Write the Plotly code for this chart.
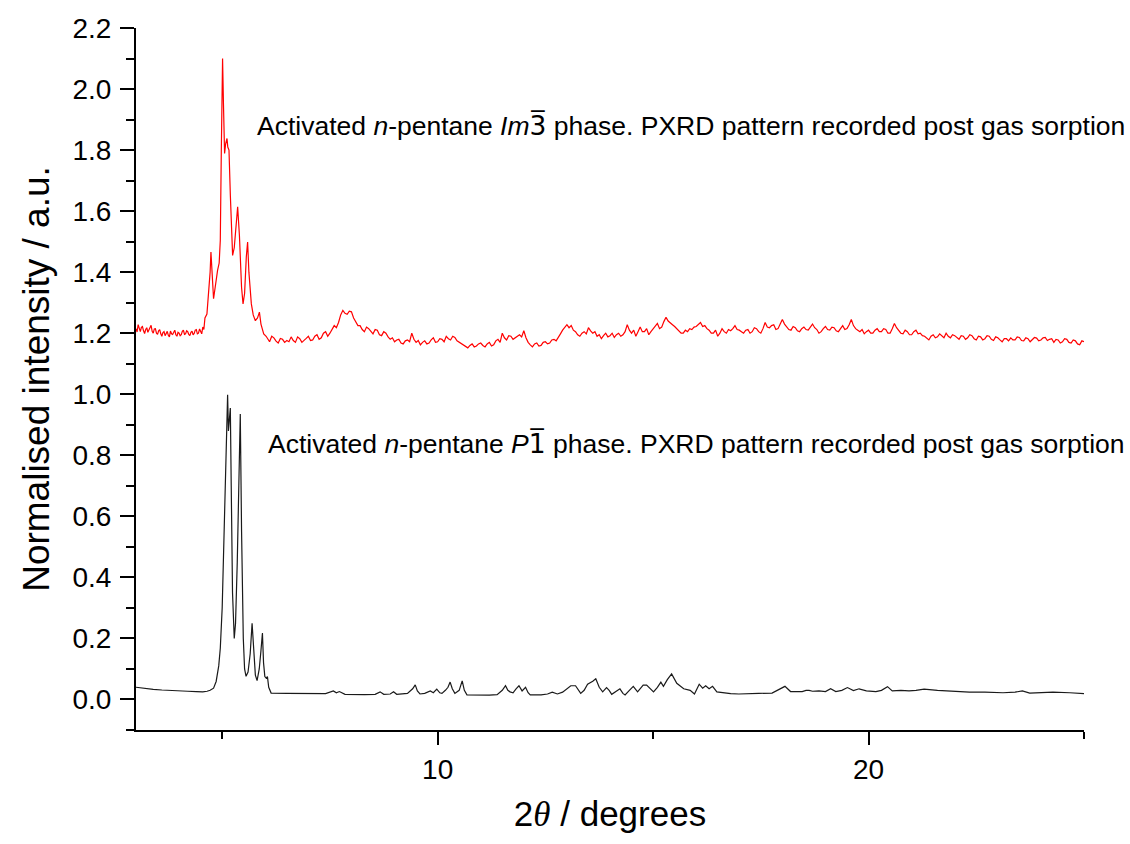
import plotly.graph_objects as go

# ---- Data ----
# Black trace: P-1 phase (x = 2theta in degrees, y = normalised intensity)
black_pts = [
    (3.0, 0.040), (3.2, 0.036), (3.4, 0.033), (3.6, 0.031), (3.8, 0.029), (4.0, 0.028),
    (4.2, 0.027), (4.4, 0.026), (4.55, 0.025), (4.65, 0.027), (4.72, 0.030), (4.8, 0.037),
    (4.86, 0.059), (4.92, 0.110), (4.956, 0.168), (5.0, 0.300), (5.033, 0.497), (5.07, 0.720),
    (5.095, 0.880), (5.126, 0.998), (5.145, 0.880), (5.165, 0.910), (5.189, 0.955), (5.21, 0.700),
    (5.24, 0.350), (5.28, 0.200), (5.31, 0.250), (5.35, 0.450), (5.39, 0.720), (5.42, 0.935),
    (5.45, 0.550), (5.49, 0.200), (5.52, 0.100), (5.554, 0.076), (5.6, 0.090), (5.65, 0.150),
    (5.694, 0.250), (5.73, 0.150), (5.77, 0.080), (5.81, 0.062), (5.86, 0.100), (5.9, 0.160),
    (5.934, 0.218), (5.96, 0.120), (5.99, 0.075), (6.02, 0.070), (6.05, 0.075), (6.08, 0.040),
    (6.136, 0.021), (6.5, 0.020), (7.0, 0.019), (7.4, 0.019), (7.58, 0.028), (7.65, 0.022),
    (7.72, 0.026), (7.85, 0.017), (8.3, 0.016), (8.55, 0.017), (8.665, 0.025), (8.75, 0.017),
    (8.9, 0.018), (8.977, 0.025), (9.05, 0.017), (9.3, 0.020), (9.42, 0.035), (9.48, 0.048),
    (9.53, 0.028), (9.59, 0.018), (9.7, 0.020), (9.83, 0.028), (9.9, 0.022), (9.98, 0.034),
    (10.05, 0.022), (10.1, 0.020), (10.18, 0.030), (10.24, 0.040), (10.29, 0.057), (10.34, 0.035),
    (10.4, 0.020), (10.5, 0.030), (10.57, 0.061), (10.62, 0.030), (10.68, 0.015), (10.92, 0.014),
    (11.2, 0.014), (11.38, 0.016), (11.5, 0.030), (11.575, 0.045), (11.63, 0.030), (11.68, 0.025),
    (11.75, 0.022), (11.82, 0.035), (11.887, 0.045), (11.96, 0.028), (12.04, 0.040), (12.1, 0.022),
    (12.15, 0.015), (12.4, 0.015), (12.55, 0.018), (12.66, 0.024), (12.78, 0.018), (12.9, 0.024),
    (13.0, 0.035), (13.09, 0.045), (13.2, 0.045), (13.27, 0.030), (13.32, 0.020), (13.4, 0.030),
    (13.48, 0.050), (13.6, 0.060), (13.67, 0.068), (13.75, 0.040), (13.83, 0.025), (13.92, 0.039),
    (13.98, 0.030), (14.04, 0.017), (14.13, 0.025), (14.23, 0.035), (14.3, 0.020), (14.35, 0.015),
    (14.45, 0.030), (14.54, 0.043), (14.64, 0.025), (14.77, 0.047), (14.85, 0.047), (14.93, 0.035),
    (15.01, 0.025), (15.1, 0.040), (15.18, 0.057), (15.24, 0.043), (15.33, 0.065), (15.43, 0.084),
    (15.55, 0.053), (15.71, 0.035), (15.86, 0.030), (15.96, 0.018), (16.07, 0.050), (16.15, 0.037),
    (16.22, 0.045), (16.30, 0.035), (16.38, 0.043), (16.48, 0.025), (16.64, 0.021), (16.8, 0.019),
    (16.99, 0.018), (17.2, 0.020), (17.45, 0.020), (17.76, 0.021), (17.9, 0.030), (18.06, 0.043),
    (18.19, 0.026), (18.46, 0.026), (18.55, 0.030), (18.62, 0.030), (18.7, 0.027), (18.85, 0.028),
    (19.0, 0.026), (19.12, 0.035), (19.24, 0.026), (19.38, 0.030), (19.51, 0.039), (19.65, 0.029),
    (19.78, 0.035), (19.95, 0.028), (20.17, 0.026), (20.3, 0.030), (20.44, 0.042), (20.55, 0.028),
    (20.75, 0.030), (20.94, 0.028), (21.1, 0.030), (21.29, 0.034), (21.6, 0.030), (21.87, 0.028),
    (22.1, 0.027), (22.34, 0.024), (22.7, 0.024), (23.12, 0.022), (23.4, 0.024), (23.57, 0.028),
    (23.74, 0.021), (24.0, 0.023), (24.28, 0.024), (24.67, 0.022), (25.0, 0.019),
]

# Red trace: Im-3 phase (offset pattern) - low-angle region and main peaks
red_peak_pts = [
    (3.0, 1.215), (3.025, 1.204), (3.05, 1.228), (3.075, 1.212), (3.1, 1.205), (3.125, 1.219),
    (3.15, 1.222), (3.175, 1.208), (3.2, 1.199), (3.225, 1.212), (3.25, 1.218), (3.275, 1.203),
    (3.3, 1.210), (3.325, 1.220), (3.35, 1.226), (3.375, 1.206), (3.4, 1.200), (3.425, 1.214),
    (3.45, 1.215), (3.475, 1.200), (3.5, 1.196), (3.525, 1.208), (3.55, 1.212), (3.575, 1.198),
    (3.6, 1.190), (3.625, 1.202), (3.65, 1.205), (3.675, 1.192), (3.7, 1.200), (3.725, 1.206),
    (3.75, 1.193), (3.775, 1.188), (3.8, 1.207), (3.825, 1.198), (3.85, 1.196), (3.875, 1.205),
    (3.9, 1.210), (3.925, 1.195), (3.95, 1.190), (3.975, 1.203), (4.0, 1.200), (4.025, 1.192),
    (4.05, 1.195), (4.075, 1.206), (4.1, 1.210), (4.125, 1.196), (4.15, 1.198), (4.175, 1.208),
    (4.2, 1.205), (4.225, 1.196), (4.25, 1.192), (4.275, 1.203), (4.3, 1.207), (4.325, 1.195),
    (4.35, 1.199), (4.375, 1.210), (4.4, 1.212), (4.425, 1.198), (4.45, 1.200), (4.475, 1.214),
    (4.5, 1.206), (4.525, 1.198), (4.55, 1.220), (4.575, 1.212), (4.6, 1.250), (4.646, 1.263),
    (4.72, 1.400), (4.739, 1.466), (4.80, 1.313), (4.85, 1.370), (4.893, 1.406), (4.93, 1.430),
    (4.956, 1.504), (4.98, 1.800), (5.009, 2.100), (5.03, 1.950), (5.056, 1.789), (5.08, 1.820),
    (5.112, 1.838), (5.13, 1.810), (5.158, 1.800), (5.19, 1.650), (5.242, 1.455), (5.28, 1.480),
    (5.33, 1.580), (5.359, 1.614), (5.40, 1.520), (5.45, 1.350), (5.484, 1.296), (5.52, 1.330),
    (5.56, 1.450), (5.59, 1.499), (5.62, 1.400), (5.677, 1.296), (5.72, 1.260), (5.77, 1.241),
    (5.82, 1.250), (5.864, 1.269), (5.90, 1.230), (5.964, 1.198), (6.02, 1.190), (6.08, 1.176),
]

# Red trace: higher-angle region
red_tail_pts = [
    (6.1, 1.172), (6.15, 1.190), (6.2, 1.185), (6.25, 1.174), (6.3, 1.168), (6.35, 1.183),
    (6.4, 1.180), (6.45, 1.170), (6.5, 1.176), (6.55, 1.172), (6.6, 1.188), (6.65, 1.176),
    (6.7, 1.170), (6.75, 1.188), (6.8, 1.182), (6.85, 1.170), (6.9, 1.175), (6.95, 1.183),
    (7.0, 1.190), (7.05, 1.176), (7.1, 1.178), (7.15, 1.190), (7.2, 1.195), (7.25, 1.180),
    (7.3, 1.185), (7.35, 1.200), (7.4, 1.205), (7.45, 1.190), (7.5, 1.200), (7.55, 1.215),
    (7.6, 1.225), (7.65, 1.218), (7.7, 1.235), (7.75, 1.260), (7.8, 1.275), (7.85, 1.265),
    (7.9, 1.262), (7.95, 1.272), (8.0, 1.270), (8.05, 1.250), (8.1, 1.235), (8.15, 1.225),
    (8.2, 1.225), (8.25, 1.212), (8.3, 1.205), (8.35, 1.220), (8.4, 1.215), (8.45, 1.205),
    (8.5, 1.198), (8.55, 1.212), (8.6, 1.210), (8.65, 1.195), (8.7, 1.192), (8.75, 1.205),
    (8.8, 1.200), (8.85, 1.188), (8.9, 1.180), (8.95, 1.185), (9.0, 1.172), (9.05, 1.178),
    (9.1, 1.180), (9.15, 1.168), (9.2, 1.165), (9.25, 1.175), (9.3, 1.178), (9.35, 1.172),
    (9.4, 1.200), (9.45, 1.180), (9.5, 1.170), (9.55, 1.176), (9.6, 1.162), (9.65, 1.170),
    (9.7, 1.175), (9.75, 1.165), (9.8, 1.168), (9.85, 1.178), (9.9, 1.185), (9.95, 1.170),
    (10.0, 1.172), (10.05, 1.182), (10.1, 1.180), (10.15, 1.172), (10.2, 1.190), (10.25, 1.182),
    (10.3, 1.178), (10.35, 1.190), (10.4, 1.186), (10.45, 1.175), (10.5, 1.170), (10.55, 1.165),
    (10.6, 1.162), (10.65, 1.158), (10.7, 1.152), (10.75, 1.160), (10.8, 1.165), (10.85, 1.155),
    (10.9, 1.158), (10.95, 1.165), (11.0, 1.168), (11.05, 1.160), (11.1, 1.155), (11.15, 1.165),
    (11.2, 1.170), (11.25, 1.158), (11.3, 1.162), (11.35, 1.175), (11.4, 1.180), (11.45, 1.170),
    (11.5, 1.200), (11.55, 1.185), (11.6, 1.178), (11.65, 1.192), (11.7, 1.190), (11.75, 1.180),
    (11.8, 1.185), (11.85, 1.192), (11.9, 1.195), (11.95, 1.188), (12.0, 1.208), (12.05, 1.185),
    (12.1, 1.170), (12.15, 1.162), (12.2, 1.155), (12.25, 1.165), (12.3, 1.168), (12.35, 1.158),
    (12.4, 1.160), (12.45, 1.170), (12.5, 1.172), (12.55, 1.165), (12.6, 1.168), (12.65, 1.178),
    (12.7, 1.180), (12.75, 1.175), (12.8, 1.185), (12.85, 1.198), (12.9, 1.210), (12.95, 1.220),
    (13.0, 1.228), (13.05, 1.218), (13.1, 1.225), (13.15, 1.210), (13.2, 1.205), (13.25, 1.195),
    (13.3, 1.190), (13.35, 1.200), (13.4, 1.205), (13.45, 1.198), (13.5, 1.218), (13.55, 1.208),
    (13.6, 1.200), (13.65, 1.205), (13.7, 1.190), (13.75, 1.195), (13.8, 1.182), (13.85, 1.192),
    (13.9, 1.200), (13.95, 1.188), (14.0, 1.192), (14.05, 1.200), (14.1, 1.186), (14.15, 1.195),
    (14.2, 1.200), (14.25, 1.190), (14.3, 1.195), (14.35, 1.205), (14.4, 1.228), (14.45, 1.210),
    (14.5, 1.200), (14.55, 1.210), (14.6, 1.190), (14.65, 1.205), (14.7, 1.220), (14.75, 1.205),
    (14.8, 1.205), (14.85, 1.215), (14.9, 1.195), (14.95, 1.205), (15.0, 1.215), (15.05, 1.222),
    (15.1, 1.232), (15.15, 1.215), (15.2, 1.220), (15.25, 1.238), (15.3, 1.252), (15.35, 1.240),
    (15.4, 1.235), (15.45, 1.228), (15.5, 1.222), (15.55, 1.215), (15.6, 1.210), (15.65, 1.200),
    (15.7, 1.200), (15.75, 1.210), (15.8, 1.205), (15.85, 1.215), (15.9, 1.212), (15.95, 1.220),
    (16.0, 1.222), (16.05, 1.230), (16.1, 1.235), (16.15, 1.222), (16.2, 1.225), (16.25, 1.215),
    (16.3, 1.210), (16.35, 1.200), (16.4, 1.200), (16.45, 1.210), (16.5, 1.190), (16.55, 1.200),
    (16.6, 1.215), (16.65, 1.205), (16.7, 1.200), (16.75, 1.212), (16.8, 1.208), (16.85, 1.215),
    (16.9, 1.225), (16.95, 1.212), (17.0, 1.210), (17.05, 1.205), (17.1, 1.200), (17.15, 1.210),
    (17.2, 1.212), (17.25, 1.200), (17.3, 1.205), (17.35, 1.218), (17.4, 1.215), (17.45, 1.205),
    (17.5, 1.200), (17.55, 1.215), (17.6, 1.235), (17.65, 1.220), (17.7, 1.218), (17.75, 1.225),
    (17.8, 1.228), (17.85, 1.212), (17.9, 1.215), (17.95, 1.230), (18.0, 1.245), (18.05, 1.230),
    (18.1, 1.222), (18.15, 1.212), (18.2, 1.210), (18.25, 1.222), (18.3, 1.218), (18.35, 1.208),
    (18.4, 1.205), (18.45, 1.215), (18.5, 1.220), (18.55, 1.212), (18.6, 1.210), (18.65, 1.222),
    (18.7, 1.230), (18.75, 1.218), (18.8, 1.212), (18.85, 1.200), (18.9, 1.205), (18.95, 1.215),
    (19.0, 1.222), (19.05, 1.212), (19.1, 1.210), (19.15, 1.220), (19.2, 1.218), (19.25, 1.208),
    (19.3, 1.205), (19.35, 1.215), (19.4, 1.225), (19.45, 1.212), (19.5, 1.215), (19.55, 1.228),
    (19.6, 1.245), (19.65, 1.225), (19.7, 1.215), (19.75, 1.210), (19.8, 1.205), (19.85, 1.212),
    (19.9, 1.198), (19.95, 1.205), (20.0, 1.210), (20.05, 1.200), (20.1, 1.200), (20.15, 1.210),
    (20.2, 1.215), (20.25, 1.205), (20.3, 1.205), (20.35, 1.215), (20.4, 1.212), (20.45, 1.200),
    (20.5, 1.200), (20.55, 1.215), (20.6, 1.232), (20.65, 1.218), (20.7, 1.210), (20.75, 1.200),
    (20.8, 1.198), (20.85, 1.210), (20.9, 1.205), (20.95, 1.195), (21.0, 1.195), (21.05, 1.205),
    (21.1, 1.210), (21.15, 1.198), (21.2, 1.200), (21.25, 1.192), (21.3, 1.190), (21.35, 1.185),
    (21.4, 1.178), (21.45, 1.190), (21.5, 1.195), (21.55, 1.185), (21.6, 1.188), (21.65, 1.198),
    (21.7, 1.192), (21.75, 1.185), (21.8, 1.200), (21.85, 1.190), (21.9, 1.185), (21.95, 1.195),
    (22.0, 1.192), (22.05, 1.185), (22.1, 1.180), (22.15, 1.192), (22.2, 1.190), (22.25, 1.180),
    (22.3, 1.185), (22.35, 1.195), (22.4, 1.192), (22.45, 1.182), (22.5, 1.178), (22.55, 1.190),
    (22.6, 1.188), (22.65, 1.178), (22.7, 1.182), (22.75, 1.192), (22.8, 1.190), (22.85, 1.180),
    (22.9, 1.176), (22.95, 1.188), (23.0, 1.185), (23.05, 1.178), (23.1, 1.172), (23.15, 1.182),
    (23.2, 1.182), (23.25, 1.175), (23.3, 1.185), (23.35, 1.178), (23.4, 1.178), (23.45, 1.188),
    (23.5, 1.186), (23.55, 1.176), (23.6, 1.175), (23.65, 1.185), (23.7, 1.182), (23.75, 1.172),
    (23.8, 1.178), (23.85, 1.186), (23.9, 1.184), (23.95, 1.175), (24.0, 1.178), (24.05, 1.185),
    (24.1, 1.186), (24.15, 1.176), (24.2, 1.180), (24.25, 1.182), (24.3, 1.170), (24.35, 1.180),
    (24.4, 1.178), (24.45, 1.168), (24.5, 1.172), (24.55, 1.182), (24.6, 1.180), (24.65, 1.170),
    (24.7, 1.168), (24.75, 1.178), (24.8, 1.175), (24.85, 1.165), (24.9, 1.162), (24.95, 1.175),
    (25.0, 1.172),
]

black_x = [p[0] for p in black_pts]
black_y = [p[1] for p in black_pts]
red_x = [p[0] for p in red_peak_pts + red_tail_pts]
red_y = [p[1] for p in red_peak_pts + red_tail_pts]

x_range = [3, 25]
y_range = [-0.1, 2.2]
y_tickvals = [0.0, 0.2, 0.4, 0.6, 0.8, 1.0, 1.2, 1.4, 1.6, 1.8, 2.0, 2.2]
x_tickvals = [10, 20]

BAR = "<span style=\"font-family:'DejaVu Sans'\">{}\u0305</span>"
label_top = ("Activated <i>n</i>-pentane <i>Im</i>" + BAR.format("3")
             + " phase. PXRD pattern recorded post gas sorption")
label_bottom = ("Activated <i>n</i>-pentane <i>P</i>" + BAR.format("1")
                + " phase. PXRD pattern recorded post gas sorption")

FONT = "Arial, 'Liberation Sans', sans-serif"

fig = go.Figure()
fig.add_trace(go.Scatter(x=black_x, y=black_y, mode="lines",
                         line=dict(color="#1a1a1a", width=1.2), showlegend=False))
fig.add_trace(go.Scatter(x=red_x, y=red_y, mode="lines",
                         line=dict(color="#ff0000", width=1.2), showlegend=False))

fig.update_layout(
    width=1130, height=844,
    margin=dict(l=136, r=46, t=28, b=114),
    plot_bgcolor="white", paper_bgcolor="white",
    font=dict(family=FONT, color="black", size=28),
    xaxis=dict(
        range=x_range, tickvals=x_tickvals, ticktext=[str(v) for v in x_tickvals],
        showgrid=False, zeroline=False, showline=True, linecolor="black", linewidth=2,
        ticks="outside", ticklen=13, tickwidth=2, tickcolor="black",
        tickfont=dict(size=28, family=FONT),
        minor=dict(tickvals=[5, 15, 25], ticks="outside", ticklen=7, tickwidth=2, tickcolor="black"),
        title=dict(text="2<span style=\"font-family:'Liberation Serif'\"><i>θ</i></span> / degrees",
                   font=dict(size=35, family=FONT), standoff=18),
        automargin=False,
    ),
    yaxis=dict(
        range=y_range, tickvals=y_tickvals, ticktext=[f"{v:.1f}" for v in y_tickvals],
        showgrid=False, zeroline=False, showline=True, linecolor="black", linewidth=2,
        ticks="outside", ticklen=14, tickwidth=2, tickcolor="black",
        tickfont=dict(size=28, family=FONT), ticklabelstandoff=3,
        minor=dict(dtick=0.1, tick0=0, ticks="outside", ticklen=8, tickwidth=2, tickcolor="black"),
        title=dict(text="Normalised intensity / a.u.", font=dict(size=37, family=FONT), standoff=12),
        automargin=False,
    ),
    annotations=[
        dict(text=label_top, x=1.045, y=1.88, xref="paper", yref="y",
             xanchor="right", yanchor="middle", showarrow=False,
             font=dict(size=26.5, family=FONT, color="black")),
        dict(text=label_bottom, x=1.045, y=0.84, xref="paper", yref="y",
             xanchor="right", yanchor="middle", showarrow=False,
             font=dict(size=26.5, family=FONT, color="black")),
    ],
)

fig.write_html("out.html")
